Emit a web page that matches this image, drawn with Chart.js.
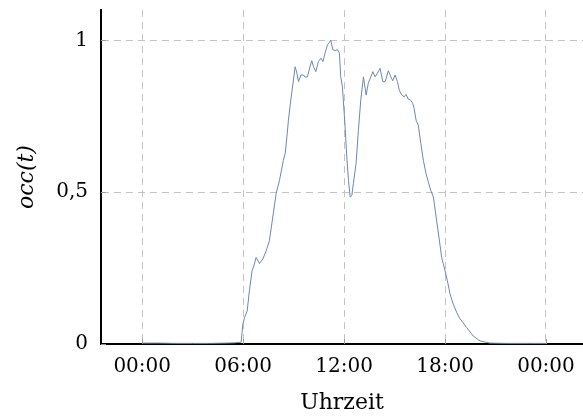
<!DOCTYPE html>
<html lang="de">
<head>
<meta charset="utf-8">
<title>Auslastung</title>
<script src="https://cdn.jsdelivr.net/npm/chart.js@4.4.1/dist/chart.umd.min.js"></script>
<style>
  html, body { margin: 0; padding: 0; background: #fff; }
  #container { width: 583px; height: 417px; }
</style>
</head>
<body>
<div id="container"><canvas id="graficoOcc"></canvas></div>
<script>
// Uhrzeit in Stunden
const zeit = [
  0, 1, 2, 3, 4, 5, 5.5, 5.88, 5.98, 6.08,
  6.24, 6.37, 6.53, 6.64, 6.77, 6.97, 7.17, 7.37, 7.56, 7.76,
  7.96, 8.16, 8.39, 8.50, 8.60, 8.69, 8.83, 8.95, 9.09, 9.19,
  9.29, 9.43, 9.58, 9.68, 9.82, 9.95, 10.08, 10.18, 10.32, 10.47,
  10.62, 10.74, 10.87, 11.01, 11.11, 11.21, 11.33, 11.47, 11.60, 11.72,
  11.80, 11.90, 12.06, 12.16, 12.26, 12.36, 12.46, 12.55, 12.71, 12.85,
  12.99, 13.15, 13.31, 13.44, 13.59, 13.71, 13.84, 13.98, 14.14, 14.30,
  14.44, 14.63, 14.78, 14.89, 15.03, 15.17, 15.29, 15.43, 15.57, 15.68,
  15.82, 15.96, 16.08, 16.16, 16.28, 16.41, 16.56, 16.71, 16.87, 17.01,
  17.15, 17.31, 17.47, 17.64, 17.80, 18.00, 18.14, 18.30, 18.49, 18.70,
  18.89, 19.29, 19.68, 20.08, 20.67, 21.67, 23.0, 24.0
];

// occ(t), normiert auf das Tagesmaximum
const auslastung = [
  0.003, 0.003, 0.002, 0.002, 0.002, 0.003, 0.004, 0.006, 0.065, 0.087,
  0.109, 0.175, 0.241, 0.258, 0.285, 0.265, 0.280, 0.307, 0.340, 0.418,
  0.495, 0.539, 0.605, 0.628, 0.682, 0.737, 0.803, 0.853, 0.913, 0.893,
  0.864, 0.886, 0.886, 0.879, 0.880, 0.909, 0.933, 0.913, 0.897, 0.930,
  0.941, 0.930, 0.958, 0.985, 0.992, 1.000, 0.969, 0.966, 0.969, 0.958,
  0.880, 0.847, 0.715, 0.616, 0.539, 0.484, 0.489, 0.528, 0.594, 0.704,
  0.803, 0.880, 0.820, 0.859, 0.880, 0.897, 0.880, 0.892, 0.908, 0.864,
  0.864, 0.900, 0.880, 0.867, 0.886, 0.864, 0.834, 0.820, 0.814, 0.822,
  0.806, 0.803, 0.792, 0.776, 0.737, 0.721, 0.660, 0.605, 0.561, 0.533,
  0.506, 0.484, 0.418, 0.351, 0.285, 0.241, 0.208, 0.164, 0.131, 0.103,
  0.083, 0.054, 0.026, 0.010, 0.003, 0.002, 0.002, 0.002
];

const xTicks = [0, 6, 12, 18, 24];
const xTickLabels = ['00:00', '06:00', '12:00', '18:00', '00:00'];
const yTicks = [0, 0.5, 1];

const schrift = 'DejaVu Serif';

// kurze Striche nach innen an jedem Tick (wie bei pgfplots)
const innenTicks = {
  id: 'innenTicks',
  beforeDatasetsDraw(chart) {
    const { ctx, chartArea, scales } = chart;
    ctx.save();
    ctx.strokeStyle = '#9a9a9a';
    ctx.lineWidth = 1;
    ctx.beginPath();
    xTicks.forEach(v => {
      const px = Math.round(scales.x.getPixelForValue(v)) + 0.5;
      ctx.moveTo(px, chartArea.bottom);
      ctx.lineTo(px, chartArea.bottom - 5);
    });
    yTicks.forEach(v => {
      const py = Math.round(scales.y.getPixelForValue(v)) + 0.5;
      ctx.moveTo(chartArea.left, py);
      ctx.lineTo(chartArea.left + 5, py);
    });
    ctx.stroke();
    ctx.restore();
  }
};

// feste Achsenmaße, ohne Zusatzabstand für überstehende Beschriftungen
function ohnePadding(scale) {
  scale.paddingTop = 0;
  scale.paddingBottom = 0;
  scale.paddingLeft = 0;
  scale.paddingRight = 0;
}

const ctxOcc = document.getElementById('graficoOcc');

new Chart(ctxOcc, {
  type: 'line',
  data: {
    datasets: [{
      data: zeit.map((t, i) => ({ x: t, y: auslastung[i] })),
      borderColor: '#6f86b0',
      borderWidth: 1,
      pointRadius: 0,
      tension: 0,
      fill: false
    }]
  },
  options: {
    responsive: true,
    maintainAspectRatio: false,
    animation: false,
    layout: {
      padding: { top: 10, right: 0, bottom: 0, left: 0 }
    },
    plugins: {
      legend: { display: false },
      tooltip: { enabled: false }
    },
    scales: {
      x: {
        type: 'linear',
        min: -2.45,
        max: 26.2,
        afterBuildTicks: scale => {
          scale.ticks = xTicks.map(v => ({ value: v }));
        },
        afterFit: scale => {
          scale.height = 73;
          ohnePadding(scale);
        },
        ticks: {
          color: '#000',
          padding: 11,
          maxRotation: 0,
          font: { family: schrift, size: 20 },
          callback: (value, index) => xTickLabels[index]
        },
        grid: {
          color: '#c4c4c4',
          lineWidth: 1,
          drawTicks: false
        },
        border: {
          color: '#000',
          width: 2,
          dash: [7, 5]
        },
        title: {
          display: true,
          text: 'Uhrzeit',
          color: '#000',
          font: { family: schrift, size: 22 },
          padding: { top: 0, bottom: 1 }
        }
      },
      y: {
        min: 0,
        max: 1.1,
        afterBuildTicks: scale => {
          scale.ticks = yTicks.map(v => ({ value: v }));
        },
        afterFit: scale => {
          scale.width = 101;
          ohnePadding(scale);
        },
        ticks: {
          color: '#000',
          padding: 13,
          font: { family: schrift, size: 20 },
          callback: value => String(value).replace('.', ',')
        },
        grid: {
          color: '#c4c4c4',
          lineWidth: 1,
          drawTicks: false
        },
        border: {
          color: '#000',
          width: 2,
          dash: [7, 5]
        },
        title: {
          display: true,
          text: 'occ(t)',
          color: '#000',
          font: { family: schrift, size: 22, style: 'italic' },
          padding: { top: 14, bottom: 0 }
        }
      }
    }
  },
  plugins: [innenTicks]
});
</script>
</body>
</html>
